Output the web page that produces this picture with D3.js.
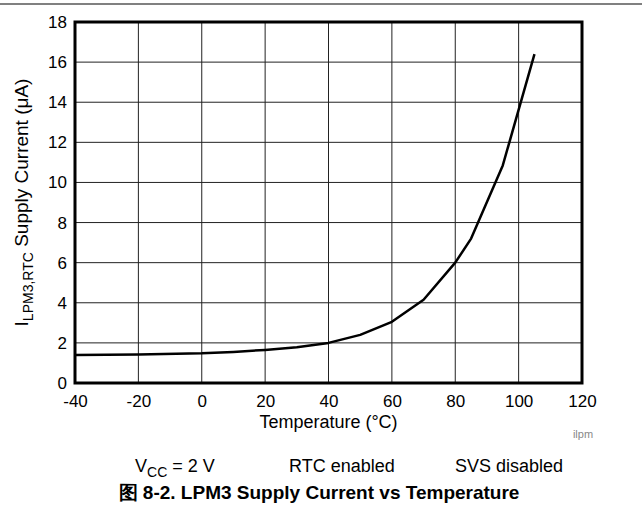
<!DOCTYPE html>
<html>
<head>
<meta charset="utf-8">
<script src="https://cdn.jsdelivr.net/npm/d3@7"></script>
<style>
  body { margin: 0; background: #fff; }
  text { font-family: "Liberation Sans", Arial, sans-serif; fill: #000; }
</style>
</head>
<body>
<svg id="chart" width="642" height="522"></svg>
<script>
// curve
var temps = [-40, -20, 0, 10, 20, 30, 40, 50, 60, 70, 80, 85, 95, 105];
var current = [1.4, 1.42, 1.48, 1.55, 1.65, 1.78, 2.0, 2.4, 3.05, 4.15, 6.0, 7.2, 10.85, 16.4];
var xTicks = [-40, -20, 0, 20, 40, 60, 80, 100, 120];
var yTicks = [0, 2, 4, 6, 8, 10, 12, 14, 16, 18];

var margin = {top: 22, right: 60, bottom: 139, left: 75};
var width = 642 - margin.left - margin.right,
    height = 522 - margin.top - margin.bottom;

var svg = d3.select("#chart");

// rule at top of page
svg.append("line")
    .attr("x1", 0).attr("x2", 642)
    .attr("y1", 4).attr("y2", 4)
    .attr("stroke", "#808080").attr("stroke-width", 2);

var g = svg.append("g")
    .attr("transform", "translate(" + margin.left + "," + margin.top + ")");

var x = d3.scaleLinear().domain([-40, 120]).range([0, width]),
    y = d3.scaleLinear().domain([0, 18]).range([height, 0]);

// grid
g.append("g").selectAll("line").data(xTicks).enter().append("line")
    .attr("x1", function(d) { return x(d); }).attr("x2", function(d) { return x(d); })
    .attr("y1", 0).attr("y2", height)
    .attr("stroke", "#222").attr("stroke-width", 1);
g.append("g").selectAll("line").data(yTicks).enter().append("line")
    .attr("y1", function(d) { return y(d); }).attr("y2", function(d) { return y(d); })
    .attr("x1", 0).attr("x2", width)
    .attr("stroke", "#222").attr("stroke-width", 1);

var plain = function(d) { return String(d); };
var xaxis = d3.axisBottom(x).tickValues(xTicks).tickFormat(plain).tickSize(0).tickPadding(12);
var yaxis = d3.axisLeft(y).tickValues(yTicks).tickFormat(plain).tickSize(0).tickPadding(8);

g.append("g")
    .attr("class", "xaxis")
    .attr("transform", "translate(0," + height + ")")
    .call(xaxis)
    .call(function(s) { s.select(".domain").remove(); })
    .selectAll("text").style("font-size", "17px")
    .attr("font-family", null);

g.append("g")
    .attr("class", "yaxis")
    .call(yaxis)
    .call(function(s) { s.select(".domain").remove(); })
    .selectAll("text").style("font-size", "17px")
    .attr("font-family", null);

// frame
g.append("rect")
    .attr("width", width).attr("height", height)
    .attr("fill", "none").attr("stroke", "#000").attr("stroke-width", 3);

var line = d3.line()
    .x(function(d, i) { return x(temps[i]); })
    .y(function(d) { return y(d); });

g.append("path")
    .datum(current)
    .attr("fill", "none")
    .attr("stroke", "#000")
    .attr("stroke-width", 2.5)
    .attr("stroke-linejoin", "round")
    .attr("d", line);

// axis labels
g.append("text")
    .attr("x", width / 2).attr("y", height + 45)
    .style("text-anchor", "middle").style("font-size", "18px")
    .text("Temperature (°C)");

var ylab = g.append("text")
    .attr("transform", "rotate(-90)")
    .attr("x", -height / 2).attr("y", -margin.left + 28)
    .style("text-anchor", "middle").style("font-size", "19px");
ylab.append("tspan").text("I");
ylab.append("tspan").attr("dy", 5).style("font-size", "14px").text("LPM3,RTC");
ylab.append("tspan").attr("dy", -5).text(" Supply Current (μA)");

svg.append("text")
    .attr("x", 583).attr("y", 438)
    .style("text-anchor", "middle").style("font-size", "11px")
    .style("fill", "#888").text("ilpm");

// conditions
var vcc = svg.append("text").attr("x", 135).attr("y", 472).style("font-size", "18px");
vcc.append("tspan").text("V");
vcc.append("tspan").attr("dy", 5).style("font-size", "14px").text("CC");
vcc.append("tspan").attr("dy", -5).text(" = 2 V");

svg.append("text").attr("x", 289).attr("y", 472).style("font-size", "18px").text("RTC enabled");
svg.append("text").attr("x", 455).attr("y", 472).style("font-size", "18px").text("SVS disabled");

svg.append("text")
    .attr("x", 319).attr("y", 499)
    .style("text-anchor", "middle").style("font-size", "19px").style("font-weight", "bold")
    .text("图 8-2. LPM3 Supply Current vs Temperature");
</script>
</body>
</html>
